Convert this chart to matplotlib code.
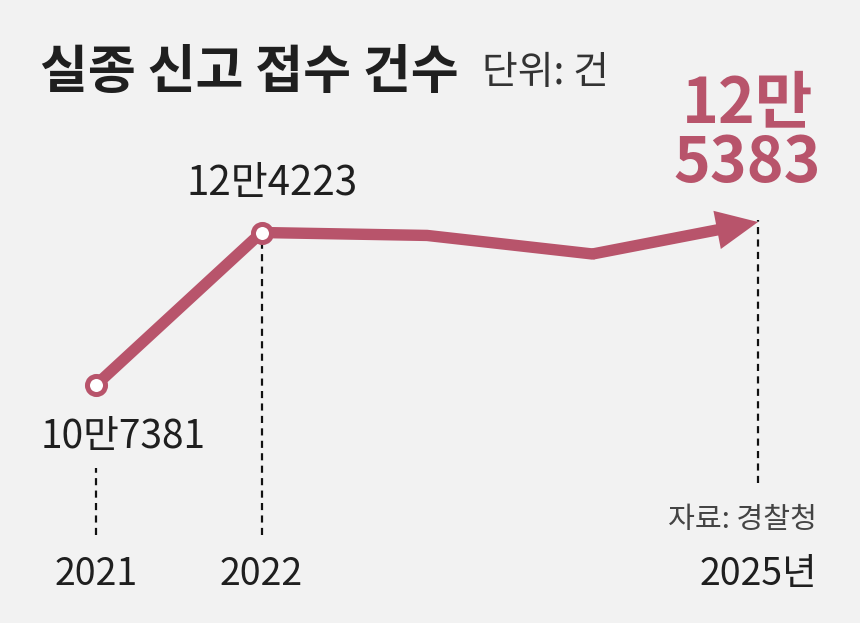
import matplotlib
matplotlib.use("Agg")
import matplotlib.pyplot as plt

plt.rcParams['font.family'] = ['Noto Sans CJK KR', 'DejaVu Sans']

years = [2021, 2022, 2023, 2024, 2025]
counts = [107381, 124223, 123900, 121850, 125383]
labeled_years = [2021, 2022, 2025]
year_labels = ['2021', '2022', '2025년']
title = '실종 신고 접수 건수'
unit = '단위: 건'
source = '자료: 경찰청'

LINE = '#b8546b'
BG = '#f2f2f2'
INK = '#1f1f1f'

W, H, DPI = 860, 623, 100
fig = plt.figure(figsize=(W / DPI, H / DPI), dpi=DPI, facecolor=BG)
ax = fig.add_axes([0, 0, 1, 1])
ax.set_facecolor(BG)
ax.set_xlim(2020.42, 2025.616)
ax.set_ylim(81100, 149900)
ax.axis('off')

def fmt(v, sep=''):
    return f"{v // 10000}만{sep}{v % 10000}"

def fy(py):
    return 1 - py / H

# dashed guides
dash = dict(color='#111111', lw=1.6, linestyle=(0, (3.2, 2.4)), zorder=1)
ax.axvline(years[0], ymin=fy(535), ymax=fy(468), **dash)
ax.axvline(years[1], ymin=fy(535), ymax=fy(232), **dash)
ax.axvline(years[4], ymin=fy(483), ymax=fy(220), **dash)

# main line (2021-2024)
ax.plot(years[:4], counts[:4], color=LINE, lw=8.2, solid_joinstyle='miter',
        solid_capstyle='round', zorder=3)
# last segment with arrow head
ax.annotate('', xy=(years[4], counts[4]), xytext=(years[3], counts[3]),
            arrowprops=dict(arrowstyle='simple,head_length=1.5,head_width=1.4,tail_width=0.41',
                            mutation_scale=20, color=LINE, lw=0,
                            shrinkA=0, shrinkB=0), zorder=3)
# markers
ax.plot(years[:2], counts[:2], linestyle='none', marker='o', markersize=13,
        markerfacecolor='white', markeredgecolor=LINE, markeredgewidth=3.6, zorder=4)

# value labels
ax.annotate(fmt(counts[0]), xy=(years[0], counts[0]), xytext=(19.8, -45.4),
            textcoords='offset points', ha='center', va='baseline',
            fontsize=28, color=INK)
ax.annotate(fmt(counts[1]), xy=(years[1], counts[1]), xytext=(7.5, 27),
            textcoords='offset points', ha='center', va='baseline',
            fontsize=29, color=INK)
v = counts[4]
ax.annotate(f"{v // 10000}만\n{v % 10000}", xy=(years[4], v), xytext=(-7.9, 28.8),
            textcoords='offset points', ha='center', va='baseline',
            multialignment='center', linespacing=0.93,
            fontsize=45, fontweight='bold', color=LINE)

# year labels
for yr, lab in zip(labeled_years, year_labels):
    if lab.endswith('년'):
        fig.text(817 / W, fy(585), lab, ha='right', va='baseline', fontsize=27, color=INK)
    else:
        ax.text(yr, fy(585), lab, transform=ax.get_xaxis_transform(), ha='center',
                va='baseline', fontsize=27, color=INK)

# title & unit & source
fig.text(40 / W, fy(88), title, ha='left', va='baseline', fontsize=37.5,
         fontweight='bold', color=INK)
fig.text(482 / W, fy(84), unit, ha='left', va='baseline', fontsize=28, color='#333333')
fig.text(817 / W, fy(528), source, ha='right', va='baseline', fontsize=21, color='#444444')

fig.savefig('out.png', dpi=DPI, facecolor=BG)
